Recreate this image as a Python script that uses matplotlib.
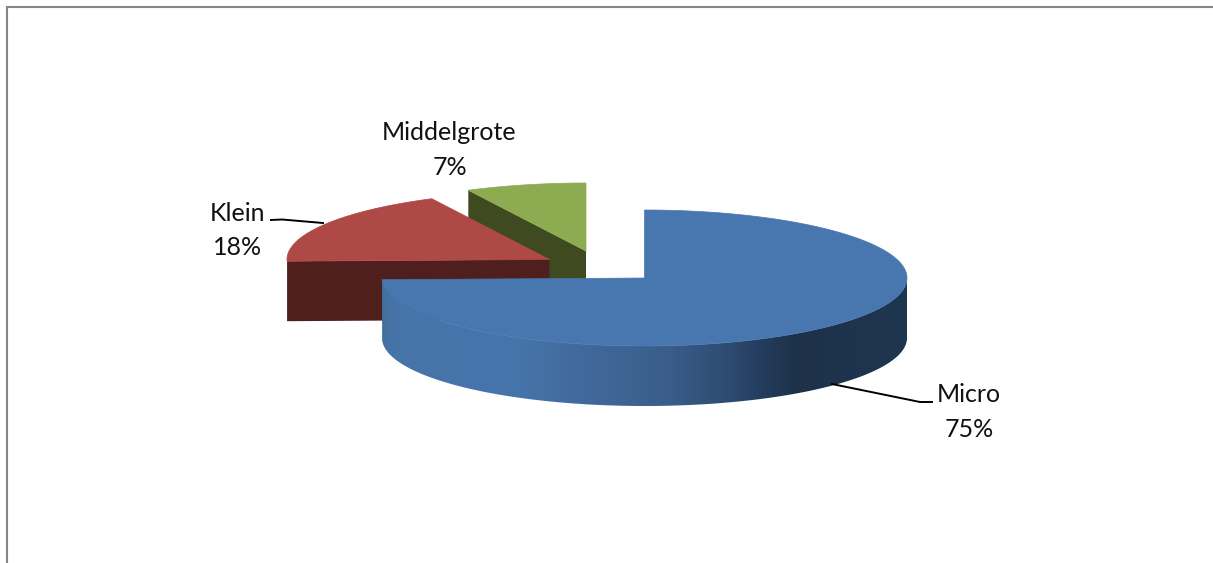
import numpy as np
import matplotlib
matplotlib.use('Agg')
import matplotlib.pyplot as plt
from matplotlib.colors import LinearSegmentedColormap
from matplotlib.patches import Polygon

# data
labels = ['Micro', 'Klein', 'Middelgrote']
values = [74.6, 18.0, 7.4]

# styling and layout, in image pixels
top_colors = ['#4877b0', '#ae4945', '#8dac52']
cut_colors = ['#24405f', '#4f1f1e', '#3f4a20']
centers = [(644.5, 278), (549.5, 259.5), (586, 251)]
label_pos = [(969, 412), (238, 230.5), (449.5, 150)]
leaders = [[(832, 384), (920, 402), (932, 402)],
           [(271, 220), (282, 219.5), (323, 223)],
           None]
rx, ry, depth = 262.5, 68, 60

plt.rcParams['font.family'] = ['Lato', 'DejaVu Sans']

fig = plt.figure(figsize=(12.13, 5.63), dpi=100)
ax = fig.add_axes([0, 0, 1, 1])
ax.set_xlim(0, 1213)
ax.set_ylim(563, 0)
ax.axis('off')


def arc(center, a0, a1, dy=0):
    # angles in degrees, clockwise from 12 o'clock
    t = np.radians(np.linspace(a0, a1, 200))
    return np.column_stack([center[0] + rx * np.sin(t),
                            center[1] - ry * np.cos(t) + dy])


# chart border, only top and left are visible
ax.plot([6.5, 6.5, 1213], [563, 6.5, 6.5], color='#868686', lw=1.5,
        solid_joinstyle='miter')

edges = np.cumsum([0] + values) / sum(values) * 360

# back to front: green, red, blue
for i in [2, 1, 0]:
    c = centers[i]
    a0, a1 = edges[i], edges[i + 1]
    top = arc(c, a0, a1)
    if i > 0:
        # cut face that runs from the rim down to the centre
        p = top[0]
        cut = [p, c, (c[0], c[1] + depth), (p[0], p[1] + depth)]
        ax.add_patch(Polygon(cut, fc=cut_colors[i], ec='none', zorder=4 - i))
    else:
        # outer wall with its horizontal shading
        wall = arc(c, 90, a1)
        poly = np.vstack([wall, arc(c, a1, 90, dy=depth)])
        patch = Polygon(poly, fc='none', ec='none', zorder=5)
        ax.add_patch(patch)
        cmap = LinearSegmentedColormap.from_list('wall', [
            (0.00, '#44709f'), (0.02, '#4674a9'), (0.25, '#4675ab'),
            (0.385, '#41699b'), (0.53, '#3b5f8c'), (0.65, '#2f4d74'),
            (0.73, '#243c5b'), (0.79, '#1d3149'), (1.00, '#1f3651')])
        x0, x1 = c[0] - rx, c[0] + rx
        grad = np.linspace(0, 1, 512).reshape(1, -1)
        im = ax.imshow(grad, cmap=cmap, extent=[x0, x1, 420, 270], aspect='auto',
                       zorder=5, interpolation='bilinear')
        im.set_clip_path(patch)
        ax.set_xlim(0, 1213)
        ax.set_ylim(563, 0)
    ax.add_patch(Polygon(np.vstack([c, top]), fc=top_colors[i], ec=top_colors[i],
                         lw=0.5, zorder=6 if i == 0 else 5 - i))

# labels and leader lines
for name, v, pos, line in zip(labels, values, label_pos, leaders):
    ax.text(pos[0], pos[1], f'{name}\n{round(v)}%', ha='center', va='center',
            fontsize=18, color='#111111', linespacing=1.58, zorder=8)
    if line is not None:
        xs, ys = zip(*line)
        ax.plot(xs, ys, color='black', lw=1.4, zorder=7)

fig.savefig('out.png', dpi=100)
